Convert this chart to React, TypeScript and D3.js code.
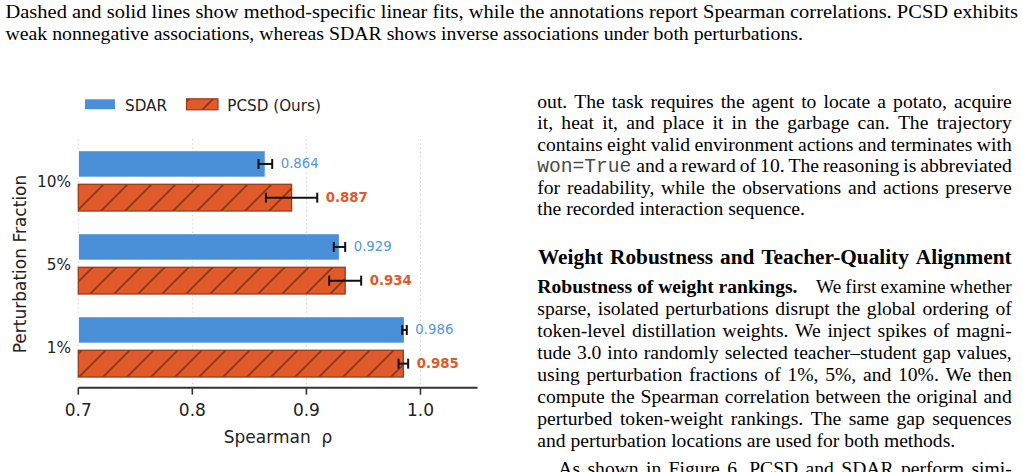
import React from 'react';
import * as d3 from 'd3';

// ---------- chart data ----------
const categories = ['10%', '5%', '1%'];
const sdarValues = [0.864, 0.929, 0.986];
const sdarErrors = [0.006, 0.005, 0.002];
const pcsdValues = [0.887, 0.934, 0.985];
const pcsdErrors = [0.0225, 0.014, 0.0042];
const xTicks = [0.7, 0.8, 0.9, 1.0];
const xDomain = [0.7, 1.05];
const legendLabels = ['SDAR', 'PCSD (Ours)'];
const xAxisTitle = 'Spearman  ρ';
const yAxisTitle = 'Perturbation Fraction';

// ---------- surrounding page text ----------
const captionLines = [
  'Dashed and solid lines show method-specific linear fits, while the annotations report Spearman correlations. PCSD exhibits',
  'weak nonnegative associations, whereas SDAR shows inverse associations under both perturbations.',
];
const columnLines = [
  'out. The task requires the agent to locate a potato, acquire',
  'it, heat it, and place it in the garbage can. The trajectory',
  'contains eight valid environment actions and terminates with',
  ' and a reward of 10. The reasoning is abbreviated',
  'for readability, while the observations and actions preserve',
  'the recorded interaction sequence.',
];
const monoWord = 'won=True';
const headingText = 'Weight Robustness and Teacher-Quality Alignment';
const runInHead = 'Robustness of weight rankings.';
const runInRest = 'We first examine whether';
const paragraphLines = [
  'sparse, isolated perturbations disrupt the global ordering of',
  'token-level distillation weights. We inject spikes of magni-',
  'tude 3.0 into randomly selected teacher–student gap values,',
  'using perturbation fractions of 1%, 5%, and 10%. We then',
  'compute the Spearman correlation between the original and',
  'perturbed token-weight rankings. The same gap sequences',
  'and perturbation locations are used for both methods.',
];
const nextParagraph = 'As shown in Figure 6, PCSD and SDAR perform simi-';

// ---------- styles ----------
const BLUE = '#4a90d9';
const ORANGE = '#e05a2b';
const HATCH = '#8a3414';
const SANS = "'DejaVu Sans', sans-serif";
const SERIF = "'Liberation Serif', 'Times New Roman', serif";
const MONO = "'Liberation Mono', 'Courier New', monospace";

let ctx: CanvasRenderingContext2D | null = null;
function measure(text: string, font: string): number {
  if (!ctx) ctx = document.createElement('canvas').getContext('2d');
  if (!ctx) return text.length * 8;
  ctx.font = font;
  return ctx.measureText(text).width;
}

type LineProps = {
  text: string;
  x0: number;
  x1?: number;
  y: number;
  size: number;
  family?: string;
  weight?: string;
  squeeze?: boolean;
};

// Renders a line of words; if x1 is given, distributes words so the line spans x0..x1 (justified).
function TextLine({ text, x0, x1, y, size, family = SERIF, weight = 'normal', squeeze }: LineProps) {
  const font = `${weight} ${size}px ${family}`;
  const words = text.split(' ');
  const widths = words.map((w) => measure(w, font));
  const total = widths.reduce((a, b) => a + b, 0);
  const spaceW = measure(' ', font);
  let gap = spaceW;
  let scale = 1;
  if (x1 !== undefined && words.length > 1) {
    gap = (x1 - x0 - total) / (words.length - 1);
    if (squeeze && gap < spaceW * 0.85) {
      scale = (x1 - x0) / (total + spaceW * 0.85 * (words.length - 1));
      gap = spaceW * 0.85 * scale;
    }
  }
  let cx = x0;
  const xs = widths.map((w) => {
    const p = cx;
    cx += w * scale + gap;
    return p;
  });
  return (
    <text y={y} fontFamily={family} fontSize={size} fontWeight={weight} fill="#000">
      {words.map((w, i) => (
        <tspan key={i} x={xs[i]} y={y} textLength={scale !== 1 ? widths[i] * scale : undefined} lengthAdjust="spacingAndGlyphs">
          {w}
        </tspan>
      ))}
    </text>
  );
}

export default function App() {
  const W = 1022;
  const H = 472;

  const x = d3.scaleLinear().domain(xDomain).range([78.3, 477.5]);
  const y = d3.scaleBand<string>().domain(categories).range([139.3, 388.3]).padding(0);
  const bw = y.bandwidth();
  const barH = 26.7;
  const barOff = 3.5;
  const axisY = 387.7;
  const gridTop = 139.3;

  const bars = categories.map((c, i) => {
    const cy = (y(c) as number) + bw / 2;
    return { c, cy, i };
  });

  // page text metrics
  const bodySize = 19.6;
  const colX0 = 537.3;
  const colX1 = 1011.7;
  const colTop = 107.5;
  const lead = 21.5;
  const paraTop = 292.7;
  const paraLead = 22.1;

  const capSize = 19;
  const capNat = measure(captionLines[1], `normal ${capSize}px ${SERIF}`);
  const capScale = (803 - 5.5) / capNat;

  const monoW = measure(monoWord, `normal ${bodySize}px ${MONO}`);
  const monoEnd = colX0 + monoW;

  return (
    <svg
      width={W}
      height={H}
      viewBox={`0 0 ${W} ${H}`}
      style={{ position: 'absolute', left: 0, top: 0, background: '#fff' }}
    >
      <defs>
        <pattern id="hatch" patternUnits="userSpaceOnUse" width="24" height="24">
          <rect width="24" height="24" fill={ORANGE} />
          <path d="M-6,6 L6,-6 M0,24 L24,0 M18,30 L30,18" stroke={HATCH} strokeWidth={1.6} />
        </pattern>
      </defs>
      <rect width={W} height={H} fill="#fff" />

      {/* caption text */}
      <g>
        <text
          x={5.5}
          y={17.5}
          fontFamily={SERIF}
          fontSize={capSize}
          textLength={1018 - 5.5}
          lengthAdjust="spacingAndGlyphs"
        >
          {captionLines[0]}
        </text>
        <text
          x={5.5}
          y={39.5}
          fontFamily={SERIF}
          fontSize={capSize}
          textLength={capNat * capScale}
          lengthAdjust="spacingAndGlyphs"
        >
          {captionLines[1]}
        </text>
      </g>

      {/* right column text */}
      <g>
        {columnLines.map((ln, i) => {
          const yy = colTop + i * lead;
          if (i === 3) {
            return (
              <g key={i}>
                <text x={colX0} y={yy} fontFamily={MONO} fontSize={bodySize} fill="#4a4a4a">
                  {monoWord}
                </text>
                <TextLine text={ln.trim()} x0={monoEnd + 5} x1={colX1} y={yy} size={bodySize} />
              </g>
            );
          }
          const last = i === columnLines.length - 1;
          return (
            <TextLine key={i} text={ln} x0={colX0} x1={last ? undefined : colX1} y={yy} size={bodySize} />
          );
        })}
        <TextLine text={headingText} x0={538} x1={colX1} y={263.5} size={21.3} weight="bold" squeeze />
        <TextLine text={runInHead} x0={colX0} y={paraTop} size={bodySize} weight="bold" />
        <TextLine text={runInRest} x0={816} x1={colX1} y={paraTop} size={bodySize} squeeze />
        {paragraphLines.map((ln, i) => {
          const last = i === paragraphLines.length - 1;
          return (
            <TextLine
              key={i}
              text={ln}
              x0={colX0}
              x1={last ? undefined : colX1}
              y={paraTop + (i + 1) * paraLead}
              size={bodySize}
              squeeze
            />
          );
        })}
        <TextLine text={nextParagraph} x0={558.3} x1={colX1} y={474.5} size={bodySize} squeeze />
      </g>

      {/* legend */}
      <g fontFamily={SANS} fontSize={15.2} fill="#222">
        <rect x={84.5} y={98.8} width={31} height={11} fill={BLUE} stroke="#fff" strokeWidth={1} />
        <text x={125} y={110.5}>{legendLabels[0]}</text>
        <rect x={186.5} y={98.8} width={31.5} height={11} fill="url(#hatch)" stroke="#9a3b1a" strokeWidth={1.2} />
        <text x={227.3} y={110.5}>{legendLabels[1]}</text>
      </g>

      {/* grid */}
      <g>
        {xTicks.map((t) => (
          <line
            key={t}
            x1={x(t)}
            x2={x(t)}
            y1={gridTop}
            y2={axisY}
            stroke="#c8c8c8"
            strokeWidth={1}
            strokeDasharray="1.2,3"
          />
        ))}
      </g>

      {/* bars */}
      <g>
        {bars.map(({ c, cy, i }) => (
          <g key={c}>
            <rect
              x={x(xDomain[0])}
              y={cy - barOff - barH}
              width={x(sdarValues[i]) - x(xDomain[0])}
              height={barH}
              fill={BLUE}
              stroke="#ffffff"
              strokeWidth={1.2}
            />
            <rect
              x={x(xDomain[0])}
              y={cy + barOff}
              width={x(pcsdValues[i]) - x(xDomain[0])}
              height={barH}
              fill="url(#hatch)"
              stroke="#9a3b1a"
              strokeWidth={1.3}
            />
          </g>
        ))}
      </g>

      {/* error bars + value labels */}
      <g>
        {bars.map(({ c, cy, i }) => {
          const series = [
            { v: sdarValues[i], e: sdarErrors[i], yc: cy - barOff - barH / 2, color: '#5297de', bold: false },
            { v: pcsdValues[i], e: pcsdErrors[i], yc: cy + barOff + barH / 2, color: ORANGE, bold: true },
          ];
          return (
            <g key={c}>
              {series.map((s, k) => (
                <g key={k}>
                  <line x1={x(s.v - s.e)} x2={x(s.v + s.e)} y1={s.yc} y2={s.yc} stroke="#111" strokeWidth={2} />
                  <line x1={x(s.v - s.e)} x2={x(s.v - s.e)} y1={s.yc - 5} y2={s.yc + 5} stroke="#111" strokeWidth={2} />
                  <line x1={x(s.v + s.e)} x2={x(s.v + s.e)} y1={s.yc - 5} y2={s.yc + 5} stroke="#111" strokeWidth={2} />
                  <text
                    x={x(s.v + s.e) + 8.5}
                    y={s.yc}
                    dominantBaseline="central"
                    fontFamily={SANS}
                    fontSize={13.3}
                    fontWeight={s.bold ? 'bold' : 'normal'}
                    fill={s.color}
                  >
                    {s.v.toFixed(3)}
                  </text>
                </g>
              ))}
            </g>
          );
        })}
      </g>

      {/* x axis */}
      <g fontFamily={SANS} fill="#222">
        <line x1={x(xDomain[0])} x2={x(xDomain[1])} y1={axisY} y2={axisY} stroke="#333" strokeWidth={2} />
        {xTicks.map((t) => (
          <g key={t}>
            <line x1={x(t)} x2={x(t)} y1={axisY} y2={axisY + 7} stroke="#333" strokeWidth={1.6} />
            <text x={x(t)} y={416} textAnchor="middle" fontSize={17}>
              {d3.format('.1f')(t)}
            </text>
          </g>
        ))}
        <text x={278} y={442.5} textAnchor="middle" fontSize={17} style={{ whiteSpace: 'pre' }}>
          {xAxisTitle}
        </text>
      </g>

      {/* y axis */}
      <g fontFamily={SANS} fill="#222">
        {bars.map(({ c, cy }) => (
          <text key={c} x={71} y={cy + 1.5} textAnchor="end" dominantBaseline="central" fontSize={15.3}>
            {c}
          </text>
        ))}
        <text transform="translate(26,264) rotate(-90)" textAnchor="middle" fontSize={17}>
          {yAxisTitle}
        </text>
      </g>
    </svg>
  );
}
